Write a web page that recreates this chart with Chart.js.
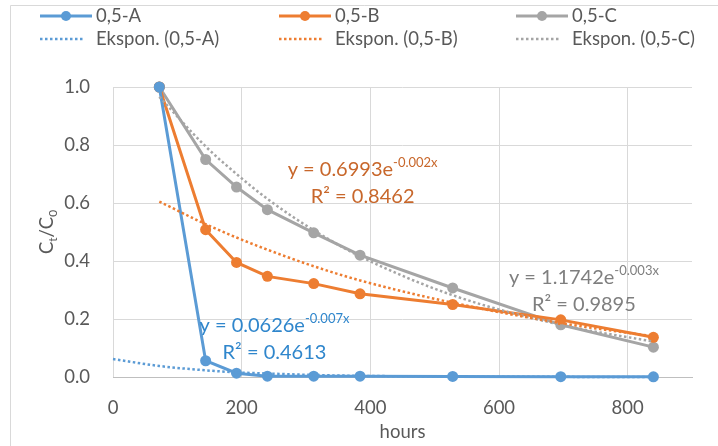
<!DOCTYPE html>
<html>
<head>
<meta charset="utf-8">
<script src="https://cdn.jsdelivr.net/npm/chart.js@4.4.0/dist/chart.umd.min.js"></script>
<style>
  html, body { margin: 0; padding: 0; background: #fff; }
</style>
</head>
<body>
<canvas id="chart" width="718" height="446"></canvas>
<script>
// Measured data (hours vs Ct/C0)
const hours = [72, 144, 192, 240, 312, 384, 528, 696, 840];
const seriesA = [1.0, 0.056, 0.013, 0.003, 0.003, 0.003, 0.002, 0.001, 0.0005];
const seriesB = [1.0, 0.508, 0.395, 0.347, 0.322, 0.287, 0.25, 0.197, 0.137];
const seriesC = [1.0, 0.75, 0.655, 0.577, 0.497, 0.42, 0.307, 0.18, 0.103];

// Trendlines
const trendHoursA = [0, 72, 144, 192, 240, 312, 384, 528, 696, 840];
const trendA = [0.062, 0.038, 0.023, 0.016, 0.012, 0.007, 0.004, 0.0015, 0.0005, 0.0002];
const trendB = [0.605, 0.527, 0.481, 0.439, 0.382, 0.333, 0.256, 0.186, 0.14];
const trendC = [0.966, 0.795, 0.70, 0.614, 0.506, 0.416, 0.282, 0.18, 0.122];

const seriesLabels = ['0,5-A', '0,5-B', '0,5-C'];
const trendLabels = ['Ekspon. (0,5-A)', 'Ekspon. (0,5-B)', 'Ekspon. (0,5-C)'];
const equations = [
    { base: 'y = 0.0626e', sup: '-0.007x', r2: 'R\u00b2 = 0.4613' },
    { base: 'y = 0.6993e', sup: '-0.002x', r2: 'R\u00b2 = 0.8462' },
    { base: 'y = 1.1742e', sup: '-0.003x', r2: 'R\u00b2 = 0.9895' }
];
const xTicks = [0, 200, 400, 600, 800];

const BLUE = '#5B9BD5';
const ORANGE = '#ED7D31';
const GRAY = '#A5A5A5';
const colors = [BLUE, ORANGE, GRAY];
const eqColors = ['#2F86CC', '#C8672B', '#7F7F7F'];
const FONT = 'Lato, "Open Sans", sans-serif';
const TEXT = '#595959';

function toPoints(xs, ys) {
    return xs.map((x, i) => ({ x: x, y: ys[i] }));
}

function seriesSet(label, ys, color) {
    return {
        label: label,
        data: toPoints(hours, ys),
        borderColor: color,
        backgroundColor: color,
        borderWidth: 3,
        pointRadius: 5.5,
        pointBorderWidth: 0,
        pointBackgroundColor: color,
        tension: 0,
        clip: false,
        order: 1
    };
}

function trendSet(label, xs, ys, color) {
    return {
        label: label,
        data: toPoints(xs, ys),
        borderColor: color,
        borderWidth: 2.5,
        borderDash: [2.5, 2.5],
        pointRadius: 0,
        cubicInterpolationMode: 'monotone',
        clip: false,
        order: 0
    };
}

// Chart area border (Excel style)
const frame = {
    id: 'frame',
    beforeDraw(chart) {
        const ctx = chart.ctx;
        ctx.save();
        ctx.strokeStyle = '#D9D9D9';
        ctx.lineWidth = 1;
        ctx.beginPath();
        ctx.moveTo(10.5, 446);
        ctx.lineTo(10.5, 5.5);
        ctx.lineTo(718, 5.5);
        ctx.stroke();
        ctx.restore();
    }
};

// Legend in 2 rows x 3 columns
const gridLegend = {
    id: 'gridLegend',
    afterDraw(chart) {
        const ctx = chart.ctx;
        const cols = [40, 279, 516];
        const rows = [16, 39];
        ctx.save();
        ctx.font = '18.5px ' + FONT;
        ctx.textBaseline = 'middle';
        for (let i = 0; i < 3; i++) {
            const x = cols[i];
            // series row
            ctx.strokeStyle = colors[i];
            ctx.fillStyle = colors[i];
            ctx.lineWidth = 3;
            ctx.setLineDash([]);
            ctx.beginPath();
            ctx.moveTo(x, rows[0]);
            ctx.lineTo(x + 52, rows[0]);
            ctx.stroke();
            ctx.beginPath();
            ctx.arc(x + 26, rows[0], 5, 0, Math.PI * 2);
            ctx.fill();
            // trend row
            ctx.lineWidth = 2.5;
            ctx.setLineDash([2.5, 2.5]);
            ctx.beginPath();
            ctx.moveTo(x, rows[1]);
            ctx.lineTo(x + 43, rows[1]);
            ctx.stroke();
            ctx.setLineDash([]);
            ctx.fillStyle = TEXT;
            ctx.fillText(seriesLabels[i], x + 56, rows[0]);
            ctx.fillText(trendLabels[i], x + 56, rows[1]);
        }
        ctx.restore();
    }
};

// Trendline equations and the y axis title with subscripts
const labels = {
    id: 'labels',
    afterDraw(chart) {
        const ctx = chart.ctx;
        const xs = chart.scales.x;
        const ys = chart.scales.y;
        const spots = [[251, 0.179], [388, 0.717], [732, 0.345]];
        ctx.save();
        equations.forEach((eq, i) => {
            const cx = xs.getPixelForValue(spots[i][0]);
            const cy = ys.getPixelForValue(spots[i][1]);
            ctx.fillStyle = eqColors[i];
            ctx.textBaseline = 'alphabetic';
            ctx.font = '20px ' + FONT;
            const w1 = ctx.measureText(eq.base).width;
            ctx.font = '13px ' + FONT;
            const w2 = ctx.measureText(eq.sup).width;
            const left = cx - (w1 + w2) / 2;
            ctx.font = '20px ' + FONT;
            ctx.fillText(eq.base, left, cy + 7);
            ctx.font = '13px ' + FONT;
            ctx.fillText(eq.sup, left + w1, cy - 2);
            ctx.font = '20px ' + FONT;
            ctx.textAlign = 'center';
            ctx.fillText(eq.r2, cx, cy + 34);
            ctx.textAlign = 'left';
        });

        // y title: Ct/C0, centred on the plot height
        const area = chart.chartArea;
        ctx.translate(47, (area.top + area.bottom) / 2);
        ctx.rotate(-Math.PI / 2);
        ctx.fillStyle = TEXT;
        const parts = [['C', 18.5, 0], ['t', 12, 4], ['/C', 18.5, 0], ['0', 12, 4]];
        let total = 0;
        parts.forEach(p => { ctx.font = p[1] + 'px ' + FONT; total += ctx.measureText(p[0]).width; });
        let px = -total / 2;
        parts.forEach(p => {
            ctx.font = p[1] + 'px ' + FONT;
            ctx.fillText(p[0], px, 6 + p[2]);
            px += ctx.measureText(p[0]).width;
        });
        ctx.restore();
    }
};

const ctx = document.getElementById('chart').getContext('2d');
new Chart(ctx, {
    type: 'line',
    data: {
        datasets: [
            seriesSet(seriesLabels[0], seriesA, BLUE),
            seriesSet(seriesLabels[1], seriesB, ORANGE),
            seriesSet(seriesLabels[2], seriesC, GRAY),
            trendSet(trendLabels[0], trendHoursA, trendA, BLUE),
            trendSet(trendLabels[1], hours, trendB, ORANGE),
            trendSet(trendLabels[2], hours, trendC, GRAY)
        ]
    },
    options: {
        responsive: false,
        devicePixelRatio: 1,
        animation: false,
        layout: { padding: { top: 87, right: 26, left: 0, bottom: 0 } },
        plugins: {
            legend: { display: false },
            tooltip: { enabled: false }
        },
        scales: {
            x: {
                type: 'linear',
                min: 0,
                max: 900,
                afterFit: s => { s.height = 69; },
                afterBuildTicks: s => { s.ticks = xTicks.map(v => ({ value: v })); },
                grid: { color: '#D9D9D9', lineWidth: 1, drawTicks: false },
                border: { display: true, color: '#BFBFBF', width: 1 },
                ticks: {
                    color: TEXT,
                    font: { family: FONT, size: 18.5 },
                    padding: 20,
                    maxRotation: 0
                },
                title: {
                    display: true,
                    text: 'hours',
                    color: TEXT,
                    font: { family: FONT, size: 18.5 },
                    padding: { top: 0, bottom: 3 }
                }
            },
            y: {
                min: 0,
                max: 1,
                afterFit: s => { s.width = 113; },
                grid: { color: '#D9D9D9', lineWidth: 1, drawTicks: false },
                border: { display: false },
                ticks: {
                    stepSize: 0.2,
                    color: TEXT,
                    font: { family: FONT, size: 18.5 },
                    padding: 23,
                    callback: v => v.toFixed(1)
                }
            }
        }
    },
    plugins: [frame, gridLegend, labels]
});
</script>
</body>
</html>
